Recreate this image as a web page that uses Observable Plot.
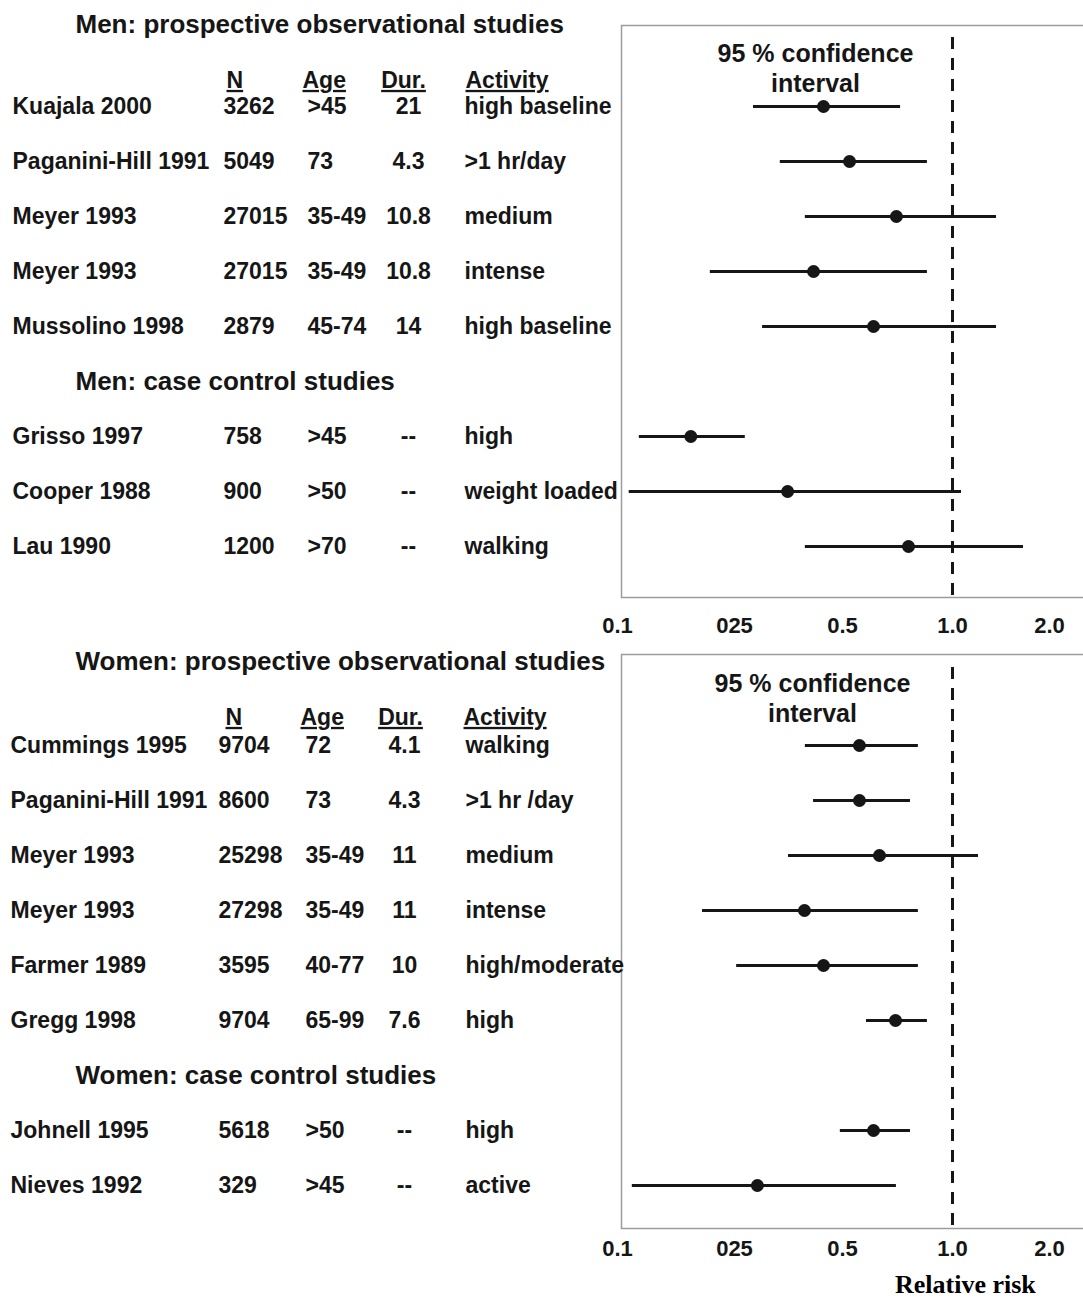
<!DOCTYPE html>
<html><head><meta charset="utf-8">
<script src="https://cdn.jsdelivr.net/npm/d3@7"></script>
<script src="https://cdn.jsdelivr.net/npm/@observablehq/plot@0.6"></script>
<style>
html,body{margin:0;padding:0;background:#fff;overflow:hidden;}
#wrap{position:relative;width:1083px;height:1299px;}
#top{position:absolute;left:0;top:0;}
#bottom{position:absolute;left:0;top:640px;}
#caption{position:absolute;left:895px;top:1268px;font-family:"Liberation Serif","Times New Roman",serif;font-weight:bold;font-size:26px;color:#000;line-height:34px;white-space:nowrap;}
</style></head><body>
<div id="wrap"><div id="top"></div><div id="bottom"></div><div id="caption">Relative risk</div></div>
<script>
// ---- axis ----
const xTicks = [0.1, 0.25, 0.5, 1, 2];
const xTickLabels = ["0.1", "025", "0.5", "1.0", "2.0"];
const columnHeaders = ["N", "Age", "Dur.", "Activity"];
const ciLabel = "95 % confidence\ninterval";

// ---- men ----
const menSections = ["Men: prospective observational studies", "Men: case control studies"];
const menStudy = ["Kuajala 2000", "Paganini-Hill 1991", "Meyer 1993", "Meyer 1993", "Mussolino 1998", "Grisso 1997", "Cooper 1988", "Lau 1990"];
const menDesign = ["prospective", "prospective", "prospective", "prospective", "prospective", "case", "case", "case"];
const menN = ["3262", "5049", "27015", "27015", "2879", "758", "900", "1200"];
const menAge = [">45", "73", "35-49", "35-49", "45-74", ">45", ">50", ">70"];
const menDur = ["21", "4.3", "10.8", "10.8", "14", "--", "--", "--"];
const menActivity = ["high baseline", ">1 hr/day", "medium", "intense", "high baseline", "high", "weight loaded", "walking"];
const menRR = [0.456, 0.532, 0.745, 0.433, 0.641, 0.194, 0.373, 0.80];
const menLo = [0.294, 0.356, 0.414, 0.219, 0.315, 0.128, 0.115, 0.414];
const menHi = [0.764, 0.886, 1.454, 0.886, 1.454, 0.275, 1.093, 1.732];

// ---- women ----
const womenSections = ["Women: prospective observational studies", "Women: case control studies"];
const womenStudy = ["Cummings 1995", "Paganini-Hill 1991", "Meyer 1993", "Meyer 1993", "Farmer 1989", "Gregg 1998", "Johnell 1995", "Nieves 1992"];
const womenDesign = ["prospective", "prospective", "prospective", "prospective", "prospective", "prospective", "case", "case"];
const womenN = ["9704", "8600", "25298", "27298", "3595", "9704", "5618", "329"];
const womenAge = ["72", "73", "35-49", "35-49", "40-77", "65-99", ">50", ">45"];
const womenDur = ["4.1", "4.3", "11", "11", "10", "7.6", "--", "--"];
const womenActivity = ["walking", ">1 hr /day", "medium", "intense", "high/moderate", "high", "high", "active"];
const womenRR = [0.577, 0.577, 0.668, 0.412, 0.456, 0.741, 0.641, 0.303];
const womenLo = [0.414, 0.433, 0.375, 0.209, 0.255, 0.609, 0.495, 0.119];
const womenHi = [0.845, 0.809, 1.268, 0.845, 0.845, 0.886, 0.809, 0.745];

// ---- layout (pixels) ----
const FRAME_LEFT = 621;
const xRange = [617, 734, 842, 952, 1049];
const FONT = "'Liberation Sans', Arial, Helvetica, sans-serif";
const INK = "#161616";

function panel(d, L) {
  const rows = d.study.map((s, i) => ({
    key: "r" + i, study: s, design: d.design[i], n: d.n[i], age: d.age[i],
    dur: d.dur[i], activity: d.activity[i], rr: d.rr[i], lo: d.lo[i], hi: d.hi[i]
  }));
  const pros = rows.filter(r => r.design === "prospective");
  const cc = rows.filter(r => r.design === "case");
  const domain = [...pros.map(r => r.key), "sec", ...cc.map(r => r.key)];
  const off = v => v - FRAME_LEFT;
  const textBase = {frameAnchor: "left", lineAnchor: "middle", fill: INK, fontSize: 23};

  const marks = [
    Plot.frame({stroke: "#9c9c9c", strokeWidth: 1.5}),
    Plot.ruleX([1], {stroke: INK, strokeWidth: 3, strokeDasharray: "12,9", insetTop: L.dashInset}),
    Plot.ruleY(rows, {y: "key", x1: "lo", x2: "hi", stroke: INK, strokeWidth: 3}),
    Plot.dot(rows, {x: "rr", y: "key", r: 6.5, fill: INK, stroke: "none"}),
    Plot.axisX({ticks: xTicks, tickFormat: v => xTickLabels[xTicks.indexOf(v)], tickSize: 0,
      tickPadding: L.tickPad, fontSize: 22, fontWeight: "bold", label: null, fill: INK}),
    // section titles
    Plot.text([d.sections[0]], {frameAnchor: "top-left", lineAnchor: "middle", textAnchor: "start",
      dx: off(L.titleX), dy: L.titleDy, fontSize: 26, fill: INK}),
    Plot.text([{key: "sec", label: d.sections[1]}], {...textBase, y: "key", text: "label",
      textAnchor: "start", dx: off(L.titleX), fontSize: 26}),
    // CI label
    Plot.text([ciLabel], {frameAnchor: "top-left", lineAnchor: "middle", textAnchor: "middle",
      dx: off(L.ciX), dy: L.ciDy, fontSize: 25, lineHeight: 1.2, fill: INK}),
    // table columns
    Plot.text(rows, {...textBase, y: "key", text: "study", textAnchor: "start", dx: off(L.cols.name)}),
    Plot.text(rows, {...textBase, y: "key", text: "n", textAnchor: "start", dx: off(L.cols.n)}),
    Plot.text(rows, {...textBase, y: "key", text: "age", textAnchor: "start", dx: off(L.cols.age)}),
    Plot.text(rows, {...textBase, y: "key", text: "dur", textAnchor: "middle", dx: off(L.cols.dur)}),
    Plot.text(rows, {...textBase, y: "key", text: "activity", textAnchor: "start", dx: off(L.cols.activity)})
  ];
  const headAnchors = ["start", "start", "middle", "start"];
  columnHeaders.forEach((h, i) => {
    marks.push(Plot.text([{key: domain[0], label: h}], {...textBase, y: "key", text: "label",
      textAnchor: headAnchors[i], dx: off(L.heads[i]), dy: L.headDy}));
  });

  const svg = Plot.plot({
    width: 1083, height: L.height,
    marginTop: L.mt, marginBottom: L.mb, marginLeft: FRAME_LEFT, marginRight: -14,
    style: {fontFamily: FONT, fontWeight: "bold", color: INK, background: "#fff", overflow: "hidden"},
    x: {type: "linear", domain: xTicks, range: xRange},
    y: {type: "point", domain, range: L.yr, padding: 0, axis: null},
    marks
  });
  d3.select(svg).selectAll("text")
    .filter(function () { return columnHeaders.includes(this.textContent); })
    .style("text-decoration", "underline");
  return svg;
}

document.getElementById("top").append(panel(
  {sections: menSections, study: menStudy, design: menDesign, n: menN, age: menAge, dur: menDur,
   activity: menActivity, rr: menRR, lo: menLo, hi: menHi},
  {height: 640, mt: 25, mb: 43, yr: [104, 548], tickPad: 20, dashInset: 12,
   titleX: 75, titleDy: -1, ciX: 815, ciDy: 42, headDy: -26,
   cols: {name: 12, n: 223, age: 307, dur: 408, activity: 464},
   heads: [226, 302, 403, 465]}
));
document.getElementById("bottom").append(panel(
  {sections: womenSections, study: womenStudy, design: womenDesign, n: womenN, age: womenAge, dur: womenDur,
   activity: womenActivity, rr: womenRR, lo: womenLo, hi: womenHi},
  {height: 625, mt: 14, mb: 37, yr: [104, 546], tickPad: 12, dashInset: 13,
   titleX: 75, titleDy: 7, ciX: 812, ciDy: 43, headDy: -28,
   cols: {name: 10, n: 218, age: 305, dur: 404, activity: 465},
   heads: [225, 300, 400, 463]}
));
</script>
</body></html>
